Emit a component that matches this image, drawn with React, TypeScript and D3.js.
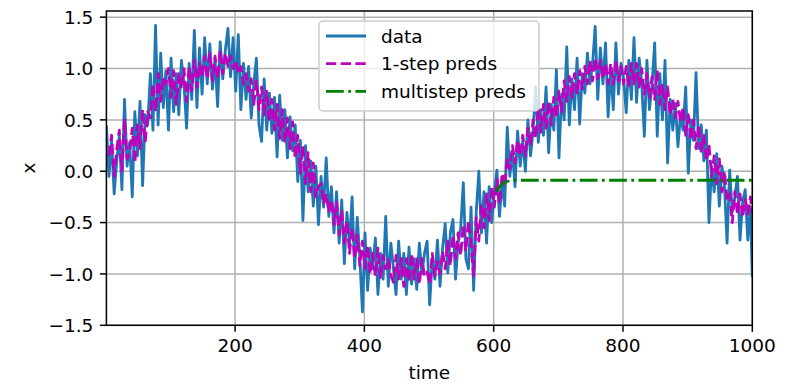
import React, { useRef, useEffect } from 'react'
import * as d3 from 'd3'

// sampled every 4 time steps (t = 1, 5, 9, ... 997) plus the last step t = 1000
const dataValues = [
  0.45, -0.05, 0.30, -0.22, 0.10, 0.35, -0.18, 0.70, 0.05, 0.28,
  -0.25, 0.58, 0.15, 0.68, -0.14, 0.55, 0.45, 0.95, 0.40, 1.42,
  0.45, 1.15, 0.62, 0.98, 0.40, 1.10, 0.58, 0.95, 0.55, 1.08,
  0.85, 0.42, 1.05, 0.70, 1.37, 0.62, 1.20, 0.75, 1.30, 0.85,
  1.24, 0.80, 1.10, 0.63, 1.26, 0.90, 1.18, 1.39, 0.92, 1.30,
  0.78, 1.33, 0.60, 1.05, 0.70, 1.02, 0.52, 0.85, 1.10, 0.45,
  0.29, 0.90, 0.40, 0.76, 0.37, 0.72, 0.14, 0.74, 0.30, 0.60,
  0.13, 0.53, 0.20, 0.45, -0.10, 0.30, -0.48, 0.25, -0.20, 0.10,
  -0.34, 0.05, -0.52, -0.05, -0.35, 0.13, -0.44, -0.15, -0.60, -0.20,
  -0.70, -0.28, -0.90, -0.40, -0.70, -0.25, -0.95, -0.45, -0.85, -1.37,
  -0.60, -1.16, -0.75, -0.95, -0.65, -1.20, -0.80, -1.05, -0.44, -1.12,
  -0.70, -0.95, -1.20, -0.68, -1.05, -0.80, -1.20, -0.74, -1.10, -0.85,
  -1.15, -0.70, -1.00, -0.80, -0.68, -1.30, -0.85, -1.05, -0.67, -1.12,
  -0.75, -0.51, -0.99, -0.60, -0.47, -1.05, -0.70, -0.55, -0.11, -0.85,
  -0.95, -0.35, -1.16, -0.40, 0.00, -0.60, -0.20, -0.70, -0.15, -0.50,
  -0.20, 0.01, -0.44, -0.10, -0.34, 0.43, -0.05, 0.20, -0.15, 0.39,
  0.05, 0.30, 0.00, 0.50, 0.15, 0.40, 0.82, 0.28, 0.60, 0.35,
  0.82, 0.18, 0.65, 0.40, 0.99, 0.13, 0.75, 0.50, 1.21, 0.45,
  0.90, 0.60, 1.10, 0.46, 0.95, 0.76, 1.15, 0.85, 1.05, 1.41,
  0.70, 1.20, 0.85, 1.25, 0.53, 1.00, 0.60, 1.25, 0.75, 1.05,
  0.90, 0.57, 1.08, 0.70, 1.30, 0.67, 1.10, 0.85, 0.34, 1.08,
  0.60, 0.85, 1.25, 0.34, 0.95, 0.50, 1.08, 0.08, 0.70, 0.40,
  0.66, 0.24, 0.55, 0.40, 0.82, -0.02, 0.50, 0.30, 0.96, 0.22,
  0.45, 0.10, 0.40, -0.50, 0.05, -0.20, 0.17, -0.34, 0.05, -0.15,
  -0.70, 0.01, -0.40, -0.25, -0.05, -0.67, -0.30, -0.18, -0.67, -0.35,
  -1.03,
]

// 1-step predictions, aligned with t = 5, 9, ... 997, 1000
const oneStepValues = [
  0.15, 0.35, -0.05, 0.22, 0.40, 0.00, 0.50, 0.12, 0.18, 0.42,
  0.08, 0.45, 0.22, 0.60, 0.28, 0.58, 0.52, 0.85, 0.58, 0.95,
  0.68, 0.92, 0.85, 1.00, 0.72, 0.98, 0.65, 0.95, 0.80, 1.00,
  0.68, 1.02, 0.78, 1.08, 0.82, 1.05, 0.92, 1.12, 0.90, 1.15,
  0.88, 1.12, 0.90, 1.18, 0.95, 1.15, 1.02, 1.12, 1.00, 1.08,
  0.95, 1.02, 0.85, 0.95, 0.78, 0.90, 0.65, 0.88, 0.60, 0.82,
  0.55, 0.78, 0.48, 0.70, 0.40, 0.65, 0.32, 0.60, 0.28, 0.52,
  0.22, 0.48, 0.12, 0.35, -0.02, 0.25, -0.12, 0.18, -0.20, 0.08,
  -0.25, -0.15, -0.12, -0.32, -0.22, -0.40, -0.28, -0.52, -0.30, -0.62,
  -0.38, -0.70, -0.48, -0.80, -0.55, -0.85, -0.62, -0.92, -0.68, -0.95,
  -0.72, -1.00, -0.80, -1.02, -0.75, -1.05, -0.82, -0.95, -0.85, -1.02,
  -1.08, -0.82, -1.05, -0.85, -1.12, -0.85, -1.08, -0.80, -1.05, -0.85,
  -1.10, -0.85, -1.02, -0.98, -1.10, -0.80, -1.02, -0.88, -1.00, -0.78,
  -0.95, -0.68, -0.92, -0.62, -0.85, -0.60, -0.82, -0.52, -0.78, -0.48,
  -0.72, -1.02, -0.45, -0.68, -0.32, -0.55, -0.22, -0.48, -0.15, -0.35,
  -0.08, -0.32, -0.02, -0.15, 0.12, 0.02, 0.25, 0.08, 0.30, 0.15,
  0.35, 0.15, 0.42, 0.25, 0.50, 0.32, 0.62, 0.38, 0.65, 0.42,
  0.68, 0.45, 0.72, 0.52, 0.78, 0.58, 0.88, 0.68, 0.92, 0.72,
  0.95, 0.75, 0.98, 0.80, 1.02, 0.85, 1.08, 0.88, 1.10, 0.90,
  1.08, 0.90, 1.05, 0.85, 1.05, 0.85, 1.08, 0.88, 1.02, 0.85,
  1.02, 0.82, 1.05, 0.85, 1.05, 0.82, 1.00, 0.75, 0.95, 0.72,
  0.92, 0.70, 0.98, 0.65, 0.85, 0.60, 0.82, 0.55, 0.70, 0.52,
  0.68, 0.48, 0.62, 0.35, 0.55, 0.30, 0.50, 0.22, 0.45, 0.18,
  0.36, 0.10, 0.26, -0.05, 0.15, -0.12, 0.12, -0.20, 0.00, -0.28,
  -0.22, -0.50, -0.20, -0.42, -0.22, -0.45, -0.28, -0.42, -0.25, -0.40,
]

const multiTimes = [604, 608, 612, 616, 620, 626, 634, 700, 800, 900, 1000]
const multiValues = [-0.20, -0.16, -0.13, -0.11, -0.10, -0.09, -0.088, -0.088, -0.088, -0.088, -0.088]

const xTicks = [200, 400, 600, 800, 1000]
const yTicks = [-1.5, -1.0, -0.5, 0.0, 0.5, 1.0, 1.5]

const legendItems = [
  { label: 'data', color: '#1f77b4', dash: null },
  { label: '1-step preds', color: '#bf00bf', dash: '10.3,4.4' },
  { label: 'multistep preds', color: '#008000', dash: '17.8,4.4,2.8,4.4' },
]

const WIDTH = 803
const HEIGHT = 392
const FONT = '"DejaVu Sans", sans-serif'

export default function App() {
  const svgRef = useRef<SVGSVGElement>(null)

  useEffect(() => {
    if (!svgRef.current) return
    const svg = d3.select(svgRef.current)
    svg.selectAll('*').remove()

    const left = 106.4
    const right = 752.3
    const top = 11
    const bottom = 325.3

    const x = d3.scaleLinear().domain([1, 1000]).range([left, right])
    const y = d3.scaleLinear().domain([-1.5, 1.56]).range([bottom, top])

    // times of the sampled series
    const times = d3.range(dataValues.length - 1).map(i => 1 + 4 * i).concat([1000])
    const predTimes = times.slice(1)

    svg.append('defs').append('clipPath').attr('id', 'plot-clip')
      .append('rect')
      .attr('x', left).attr('y', top)
      .attr('width', right - left).attr('height', bottom - top)

    // grid
    const grid = svg.append('g').attr('stroke', '#b0b0b0').attr('stroke-width', 1.5)
    xTicks.forEach(t => {
      grid.append('line').attr('x1', x(t)).attr('x2', x(t)).attr('y1', top).attr('y2', bottom)
    })
    yTicks.forEach(t => {
      grid.append('line').attr('x1', left).attr('x2', right).attr('y1', y(t)).attr('y2', y(t))
    })

    const plot = svg.append('g').attr('clip-path', 'url(#plot-clip)')

    const line = d3.line<[number, number]>().x(d => x(d[0])).y(d => y(d[1]))

    plot.append('path')
      .attr('d', line(times.map((t, i) => [t, dataValues[i]] as [number, number])))
      .attr('fill', 'none')
      .attr('stroke', '#1f77b4')
      .attr('stroke-width', 2.8)
      .attr('stroke-linejoin', 'round')

    plot.append('path')
      .attr('d', line(predTimes.map((t, i) => [t, oneStepValues[i]] as [number, number])))
      .attr('fill', 'none')
      .attr('stroke', '#bf00bf')
      .attr('stroke-width', 2.8)
      .attr('stroke-linejoin', 'round')
      .attr('stroke-dasharray', '10.3,4.4')

    plot.append('path')
      .attr('d', line(multiTimes.map((t, i) => [t, multiValues[i]] as [number, number])))
      .attr('fill', 'none')
      .attr('stroke', '#008000')
      .attr('stroke-width', 2.8)
      .attr('stroke-linejoin', 'round')
      .attr('stroke-dasharray', '17.8,4.4,2.8,4.4')

    // spines
    svg.append('rect')
      .attr('x', left).attr('y', top)
      .attr('width', right - left).attr('height', bottom - top)
      .attr('fill', 'none').attr('stroke', 'black').attr('stroke-width', 1.5)

    const fmt = (v: number) => d3.format('.1f')(v).replace('-', '\u2212')

    // x ticks
    xTicks.forEach(t => {
      svg.append('line')
        .attr('x1', x(t)).attr('x2', x(t)).attr('y1', bottom).attr('y2', bottom + 6.5)
        .attr('stroke', 'black').attr('stroke-width', 1.5)
      svg.append('text')
        .attr('x', x(t)).attr('y', bottom + 27)
        .attr('text-anchor', 'middle')
        .attr('font-family', FONT).attr('font-size', 18.5)
        .text(String(t))
    })

    // y ticks
    yTicks.forEach(t => {
      svg.append('line')
        .attr('x1', left - 6.5).attr('x2', left).attr('y1', y(t)).attr('y2', y(t))
        .attr('stroke', 'black').attr('stroke-width', 1.5)
      svg.append('text')
        .attr('x', left - 13).attr('y', y(t))
        .attr('dy', '0.36em')
        .attr('text-anchor', 'end')
        .attr('font-family', FONT).attr('font-size', 18.5)
        .text(fmt(t))
    })

    // axis labels
    svg.append('text')
      .attr('x', (left + right) / 2).attr('y', 379)
      .attr('text-anchor', 'middle')
      .attr('font-family', FONT).attr('font-size', 18.5)
      .text('time')

    svg.append('text')
      .attr('transform', `translate(35, ${(top + bottom) / 2}) rotate(-90)`)
      .attr('text-anchor', 'middle')
      .attr('font-family', FONT).attr('font-size', 18.5)
      .text('x')

    // legend
    const legend = svg.append('g')
    legend.append('rect')
      .attr('x', 319).attr('y', 21)
      .attr('width', 220).attr('height', 90)
      .attr('rx', 4).attr('ry', 4)
      .attr('fill', 'white').attr('fill-opacity', 0.8)
      .attr('stroke', '#cccccc').attr('stroke-width', 1.5)

    legendItems.forEach((item, i) => {
      const ly = 36 + i * 27.7
      const handle = legend.append('line')
        .attr('x1', 326).attr('x2', 366).attr('y1', ly).attr('y2', ly)
        .attr('stroke', item.color).attr('stroke-width', 2.8)
      if (item.dash) handle.attr('stroke-dasharray', item.dash)
      legend.append('text')
        .attr('x', 381).attr('y', ly)
        .attr('dy', '0.36em')
        .attr('font-family', FONT).attr('font-size', 18.5)
        .text(item.label)
    })
  }, [])

  return (
    <div style={{ position: 'absolute', left: 0, top: 0 }}>
      <svg ref={svgRef} width={WIDTH} height={HEIGHT} style={{ display: 'block', background: 'white' }} />
    </div>
  )
}
